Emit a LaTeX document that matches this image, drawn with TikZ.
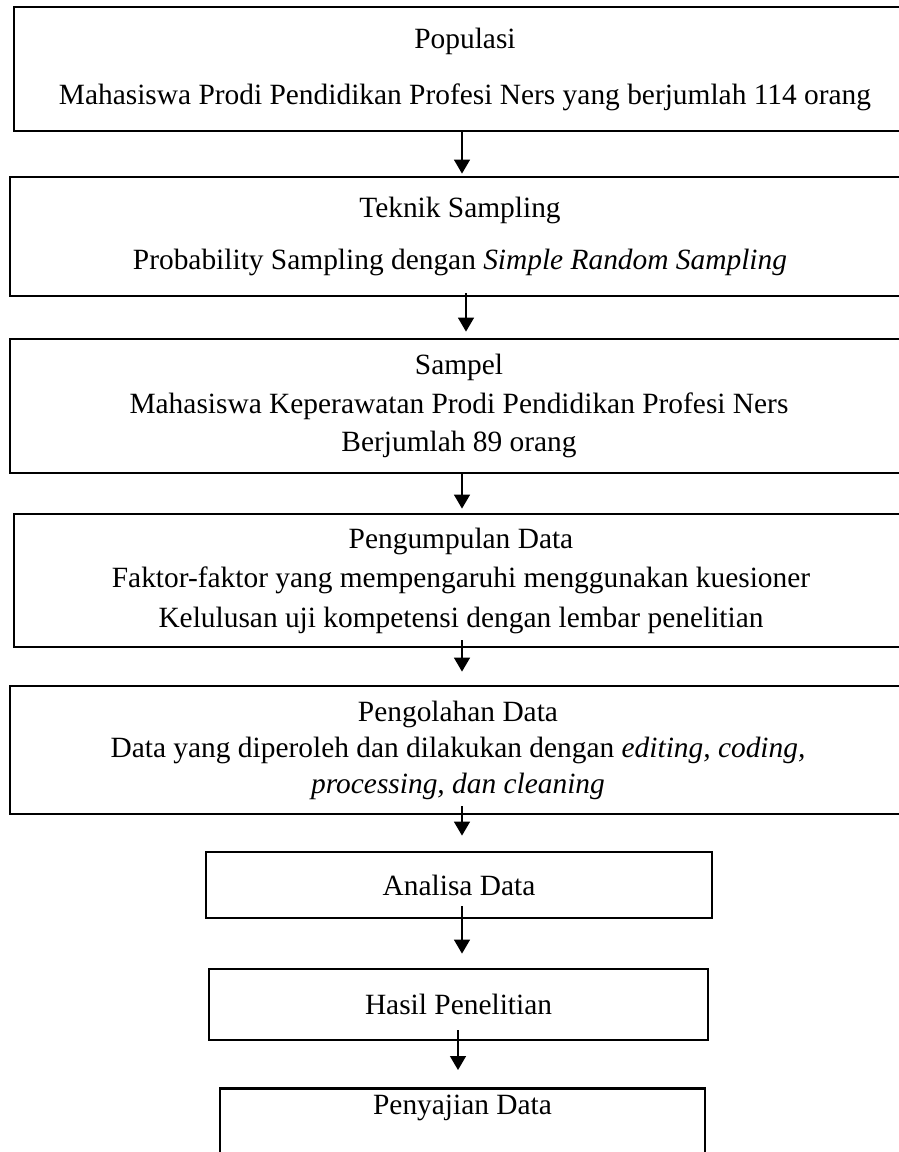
\documentclass[tikz,border=0pt]{standalone}
\usepackage{fontspec}
\setmainfont{Liberation Serif}
\usetikzlibrary{arrows.meta}
\newcommand{\boxfont}{\fontsize{29.4}{35.3}\selectfont}

\begin{document}
\begin{tikzpicture}[x=1pt,y=-1pt,
   kotak/.style={draw=black,line width=2.8pt,align=center,font=\boxfont,inner sep=0pt},
   panah/.style={line width=1.4pt,-{Triangle[width=16pt,length=14pt]}}]
   \useasboundingbox (0,0) rectangle (899,1152);
   \clip (0,0) rectangle (899,1152);
   \node[kotak,minimum width=902pt,minimum height=124pt] (pop) at (465,69)
     {Populasi\\[20.7pt] Mahasiswa Prodi Pendidikan Profesi Ners yang berjumlah 114 orang};
   \node[kotak,minimum width=900pt,minimum height=119pt] (tek) at (460,236.5)
     {Teknik Sampling\\[16.7pt] Probability Sampling dengan \textit{Simple Random Sampling}};
   \node[kotak,minimum width=898pt,minimum height=134pt] (sam) at (459,406)
     {Sampel\\[3.2pt] Mahasiswa Keperawatan Prodi Pendidikan Profesi Ners\\[3.2pt] Berjumlah 89 orang};
   \node[kotak,minimum width=894pt,minimum height=133pt] (kum) at (461,580.5)
     {Pengumpulan Data\\[4.2pt] Faktor-faktor yang mempengaruhi menggunakan kuesioner\\[4.2pt] Kelulusan uji kompetensi dengan lembar penelitian};
   \node[kotak,minimum width=896pt,minimum height=128pt] (olah) at (458,750)
     {Pengolahan Data\\[0.7pt] Data yang diperoleh dan dilakukan dengan \textit{editing, coding,}\\[0.7pt] \textit{processing, dan cleaning}};
   \node[kotak,minimum width=506pt,minimum height=66pt] (ana) at (459,885) {Analisa Data};
   \node[kotak,minimum width=499pt,minimum height=71pt] (hasil) at (458.5,1004.5) {Hasil Penelitian};
   \node[kotak,minimum width=485pt,inner ysep=7pt,text depth=60pt,anchor=north] (saji) at (462.5,1087) {Penyajian Data};

   \draw[panah,shorten >=2pt] ([xshift=-3pt]pop.south) -- ([xshift=2pt]tek.north);
   \draw[panah,shorten >=6pt] ([xshift=6pt,yshift=4pt]tek.south) -- ([xshift=7pt]sam.north);
   \draw[panah,shorten >=4pt] ([xshift=3pt]sam.south) -- ([xshift=1pt]kum.north);
   \draw[panah,shorten >=13pt] ([xshift=1pt,yshift=8pt]kum.south) -- ([xshift=4pt]olah.north);
   \draw[panah,shorten >=15pt] ([xshift=4pt,yshift=9pt]olah.south) -- ([xshift=3pt]ana.north);
   \draw[panah,shorten >=14pt] ([xshift=3pt,yshift=13pt]ana.south) -- ([xshift=3.5pt]hasil.north);
   \draw[panah,shorten >=17pt] ([xshift=-0.5pt,yshift=11pt]hasil.south) -- ([xshift=-4.5pt]saji.north);
\end{tikzpicture}
\end{document}
